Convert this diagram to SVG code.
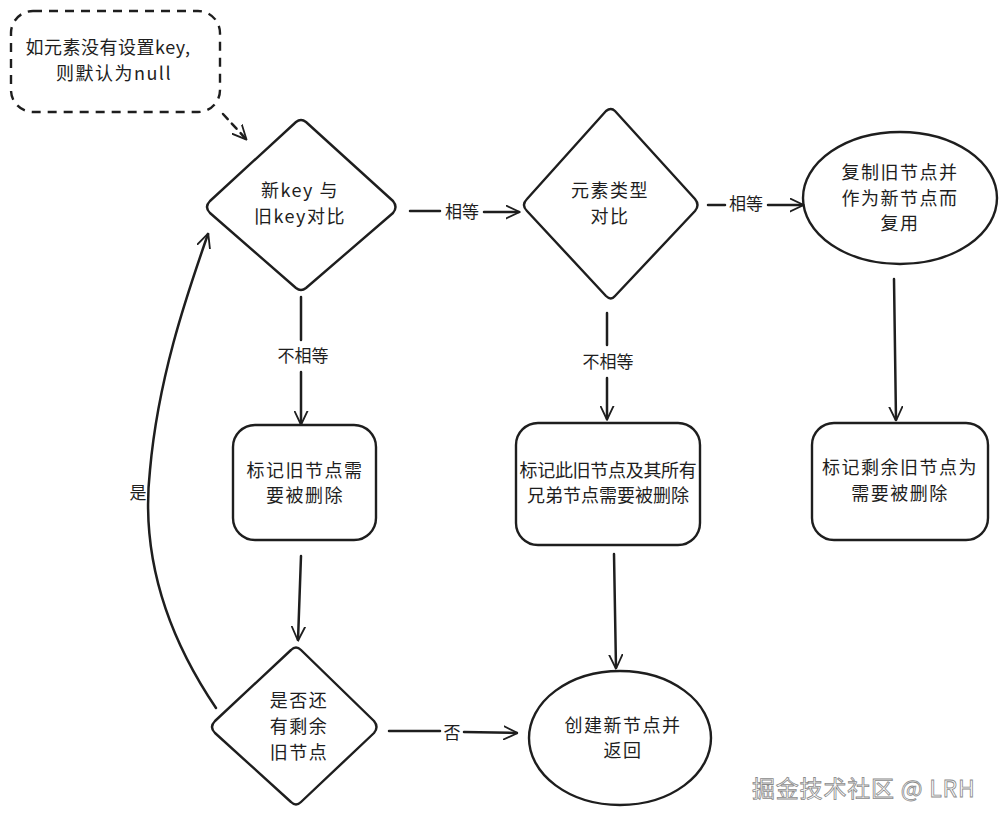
<svg xmlns="http://www.w3.org/2000/svg" width="1008" height="823" viewBox="0 0 1008 823">
<defs>
<style>
.s{fill:#fff;stroke:#1e1e1e;stroke-width:2.4;stroke-linejoin:round}
.t{font-family:"Noto Sans CJK SC","Liberation Sans",sans-serif;font-size:18px;letter-spacing:1.5px;fill:#1e1e1e;text-anchor:middle}
.c{fill:none;stroke:#1e1e1e;stroke-width:2.5;stroke-linecap:round}
.lb{font-family:"Noto Sans CJK SC","Liberation Sans",sans-serif;font-size:17px;fill:#1e1e1e;text-anchor:middle}
</style>
<marker id="a" viewBox="0 0 20 20" refX="18" refY="10" markerWidth="15" markerHeight="15" markerUnits="userSpaceOnUse" orient="auto">
<path d="M0,1 L19,10 L0,19" fill="none" stroke="#1e1e1e" stroke-width="2.4" stroke-linecap="round" stroke-linejoin="round"/>
</marker>
</defs>
<rect width="1008" height="823" fill="#fff"/>

<g id="note">
<rect x="11" y="11" width="209" height="101" rx="22" fill="#fff" stroke="#1e1e1e" stroke-width="2.4" stroke-dasharray="9 7"/>
<text class="t" x="108" y="54" style="letter-spacing:0.5px">如元素没有设置key,</text>
<text class="t" x="114" y="80">则默认为null</text>
</g>

<g id="d1">
<path class="s" d="M296,122 Q301,118 306,122 L393,201 Q398,207 393,213 L306,288 Q301,292 296,288 L210,213 Q204,207 210,201 Z"/>
<text class="t" x="300" y="197">新key 与</text>
<text class="t" x="300" y="223">旧key对比</text>
</g>

<g id="d2">
<path class="s" d="M606,111 Q611,107 615,111 L695,199 Q700,205 695,211 L615,296 Q611,301 606,296 L527,211 Q521,205 527,199 Z"/>
<text class="t" x="610" y="197">元素类型</text>
<text class="t" x="610" y="223">对比</text>
</g>

<g id="e1">
<ellipse class="s" cx="900" cy="198" rx="97" ry="66"/>
<text class="t" x="900" y="179">复制旧节点并</text>
<text class="t" x="900" y="205">作为新节点而</text>
<text class="t" x="900" y="230">复用</text>
</g>

<g id="b1">
<rect class="s" x="233" y="425" width="143" height="115" rx="22"/>
<text class="t" x="305" y="477">标记旧节点需</text>
<text class="t" x="305" y="502">要被删除</text>
</g>

<g id="b2">
<rect class="s" x="516" y="423" width="184" height="122" rx="22"/>
<text class="t" x="608" y="477" style="letter-spacing:-0.3px">标记此旧节点及其所有</text>
<text class="t" x="608" y="502" style="letter-spacing:0px">兄弟节点需要被删除</text>
</g>

<g id="b3">
<rect class="s" x="812" y="423" width="176" height="117" rx="22"/>
<text class="t" x="900" y="474">标记剩余旧节点为</text>
<text class="t" x="900" y="500">需要被删除</text>
</g>

<g id="d3">
<path class="s" d="M291,650 Q296,645 301,650 L374,721 Q379,727 374,733 L301,802 Q296,807 291,802 L215,733 Q209,727 215,721 Z"/>
<text class="t" x="299" y="707">是否还</text>
<text class="t" x="299" y="733">有剩余</text>
<text class="t" x="299" y="759">旧节点</text>
</g>

<g id="e2">
<ellipse class="s" cx="620" cy="738" rx="91" ry="67"/>
<text class="t" x="623" y="732">创建新节点并</text>
<text class="t" x="623" y="757">返回</text>
</g>

<g id="connectors">
<path class="c" d="M223,114 L246,139" stroke-dasharray="7 6" marker-end="url(#a)"/>
<path class="c" d="M410,211 L440,211 M484,212 L519,212" marker-end="url(#a)"/>
<text class="lb" x="462" y="218">相等</text>
<path class="c" d="M708,205 L725,205 M768,205 L803,205" marker-end="url(#a)"/>
<text class="lb" x="746" y="210">相等</text>
<path class="c" d="M301,297 L301,340 M301,372 L301,424" marker-end="url(#a)"/>
<text class="lb" x="303" y="362">不相等</text>
<path class="c" d="M607,313 L607,345 M607,378 L607,419" marker-end="url(#a)"/>
<text class="lb" x="608" y="368">不相等</text>
<path class="c" d="M894,279 L896,420" marker-end="url(#a)"/>
<path class="c" d="M301,556 L298,640" marker-end="url(#a)"/>
<path class="c" d="M614,554 L616,668" marker-end="url(#a)"/>
<path class="c" d="M389,731 L440,731 M464,732 L517,733" marker-end="url(#a)"/>
<text class="lb" x="452" y="739">否</text>
<path class="c" d="M216,708 C170,640 140,560 150,470 C158,380 185,300 208,234" marker-end="url(#a)"/>
<text class="lb" x="138" y="499">是</text>
</g>

<text x="752" y="797" font-family="Noto Sans CJK SC,Liberation Sans,sans-serif" font-size="23" letter-spacing="0.8" fill="#fff" stroke="#8a8a8a" stroke-width="0.8">掘金技术社区 @ LRH</text>
</svg>
